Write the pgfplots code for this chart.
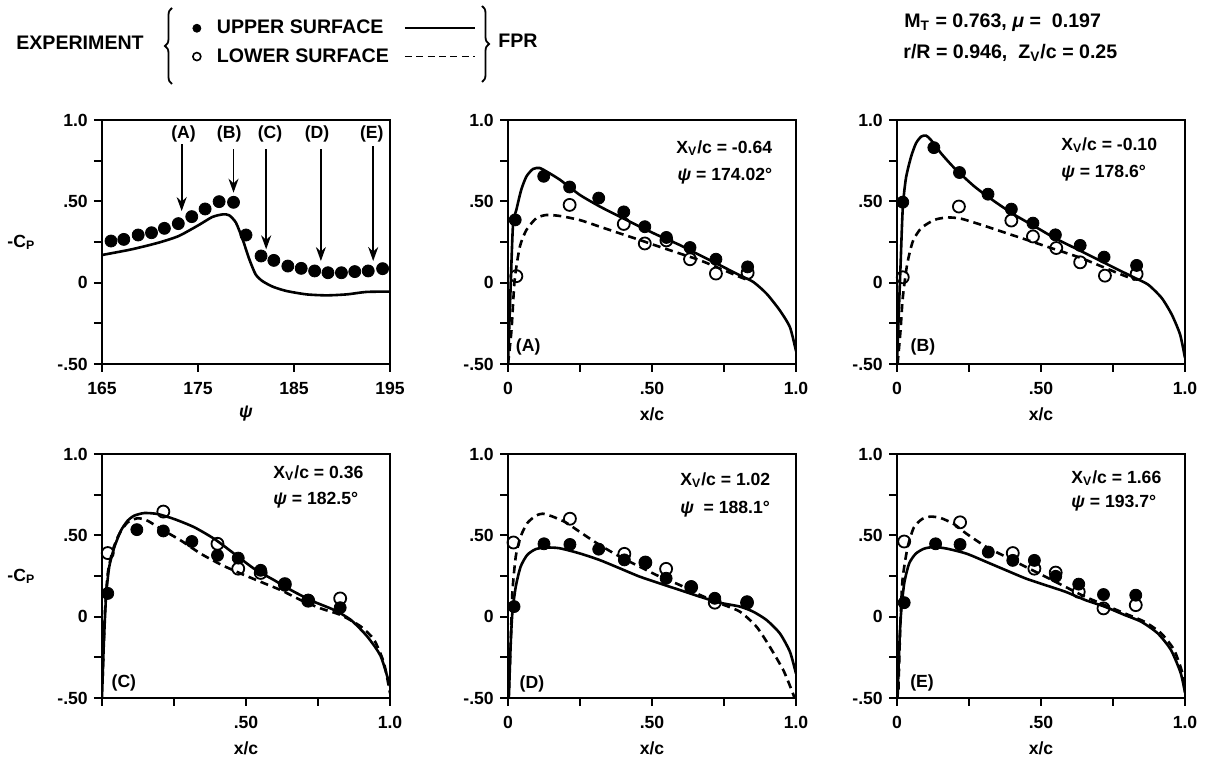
\documentclass[border=0pt]{standalone}
\usepackage{pgfplots}
\pgfplotsset{compat=1.18}
\usepackage{fontspec}
\setmainfont{Liberation Sans}
\usetikzlibrary{decorations.pathreplacing,arrows.meta}
\newcommand\fnt{\fontsize{8.8}{10.5}\selectfont\bfseries}
\newcommand\hfnt{\fontsize{9.8}{11.5}\selectfont\bfseries}
\tikzset{ann/.style={anchor=west, inner sep=0pt}}
\pgfplotsset{
  base/.style={
    scale only axis, width=144pt, height=122pt,
    ymin=-0.5, ymax=1,
    ytick={-0.5,-0.25,0,0.25,0.5,0.75,1}, yticklabels={-.50,,0,,.50,,1.0},
    tick align=outside, xtick pos=bottom, ytick pos=left,
    major tick length=4pt,
    axis line style={line width=0.9pt},
    every tick/.style={black, line width=0.9pt},
    tick label style={font=\fnt},
    xticklabel style={yshift=-2pt},
    label style={font=\fnt},
    xlabel style={at={(axis description cs:0.5,-0.205)}, anchor=center},
    ylabel style={rotate=-90, at={(axis description cs:-0.28,0.5)}, anchor=center},
    clip=true,
  },
  cpax/.style={base, xmin=0, xmax=1, xtick={0,0.25,0.5,0.75,1}, xticklabels={0,,.50,,1.0}, xlabel={x/c}},
  up/.style={only marks, mark=*, mark size=3pt, mark options={fill=black, draw=black}},
  lo/.style={only marks, mark=o, mark size=3pt, mark options={fill=white, draw=black, line width=0.9pt}},
  fs/.style={black, line width=1.3pt, no marks, smooth, tension=0.4},
  fd/.style={black, line width=1.3pt, no marks, smooth, tension=0.4, dash pattern=on 4pt off 2.5pt},
  legmark/.style={legend image code/.code={\draw[##1] plot coordinates {(3pt,0pt)}; \path[draw=none, fill=none] (0pt,0pt) (11pt,0pt);}},
  legline/.style={legend image code/.code={\draw[##1] (0pt,0pt) -- (35pt,0pt);}},
}
\begin{document}
\fnt
\begin{tikzpicture}
\useasboundingbox (0pt,0pt) rectangle (603pt,-379pt);

% ---------- psi panel ----------
\begin{axis}[base, at={(51pt,-182pt)}, anchor=south west,
  xmin=165, xmax=195, xtick={165,175,185,195}, xticklabels={165,175,185,195},
  xlabel={\textit{ψ}}, ylabel={-C\textsubscript{P}},
  legend columns=2, legend cell align=left,
  legend style={draw=none, fill=none, font=\hfnt, at={(axis description cs:0.817,1.318)}, anchor=center,
    row sep=2pt, /tikz/every even column/.append style={column sep=5.5pt}},
]
\addlegendimage{only marks, mark=*, mark size=2pt, black, legmark}
\addlegendentry{UPPER SURFACE}
\addlegendimage{black, line width=0.9pt, legline}
\addlegendentry{}
\addlegendimage{only marks, mark=o, mark size=2pt, black, line width=0.8pt, legmark}
\addlegendentry{LOWER SURFACE}
\addlegendimage{black, line width=0.9pt, dash pattern=on 3.5pt off 2.2pt, legline}
\addlegendentry{}
\addplot[fs, forget plot] coordinates {(165,0.17)(168.1,0.205)(170.9,0.246)(173.0,0.287)(175.1,0.355)(176.5,0.404)(177.6,0.42)(178.25,0.414)(178.95,0.369)(179.65,0.266)(180.35,0.143)(181.0,0.051)(181.7,0.01)(182.8,-0.025)(184.2,-0.051)(186.3,-0.072)(188.4,-0.078)(190.5,-0.072)(192.55,-0.057)(195,-0.055)};
\addplot[up, forget plot] coordinates {(165.94,0.256)(167.27,0.266)(168.77,0.293)(170.16,0.307)(171.5,0.334)(172.95,0.363)(174.35,0.406)(175.74,0.453)(177.2,0.498)(178.7,0.494)(180.0,0.293)(181.57,0.164)(182.9,0.137)(184.36,0.102)(185.75,0.088)(187.15,0.072)(188.54,0.061)(189.94,0.061)(191.33,0.068)(192.73,0.072)(194.23,0.086)};
\draw[-{Stealth[length=7pt,width=5pt]}, line width=0.9pt] (axis cs:173.3,0.85) -- (axis cs:173.3,0.44);
\draw[-{Stealth[length=7pt,width=5pt]}, line width=0.9pt] (axis cs:178.7,0.82) -- (axis cs:178.7,0.553);
\draw[-{Stealth[length=7pt,width=5pt]}, line width=0.9pt] (axis cs:182.1,0.82) -- (axis cs:182.1,0.205);
\draw[-{Stealth[length=7pt,width=5pt]}, line width=0.9pt] (axis cs:187.8,0.82) -- (axis cs:187.8,0.133);
\draw[-{Stealth[length=7pt,width=5pt]}, line width=0.9pt] (axis cs:193.25,0.84) -- (axis cs:193.25,0.133);
\node at (axis cs:173.5,0.912) {(A)};
\node at (axis cs:178.25,0.912) {(B)};
\node at (axis cs:182.5,0.912) {(C)};
\node at (axis cs:187.4,0.912) {(D)};
\node at (axis cs:193.1,0.912) {(E)};
\end{axis}

% ---------- A ----------
\begin{axis}[cpax, at={(254pt,-182pt)}, anchor=south west]
\addplot[fs] coordinates {(0,-0.5)(0.006,-0.19)(0.017,0.344)(0.029,0.447)(0.046,0.571)(0.064,0.653)(0.087,0.699)(0.11,0.705)(0.133,0.684)(0.18,0.633)(0.249,0.54)(0.319,0.468)(0.388,0.406)(0.458,0.344)(0.527,0.286)(0.597,0.231)(0.666,0.169)(0.736,0.107)(0.805,0.045)(0.852,0.004)(0.898,-0.068)(0.944,-0.171)(0.979,-0.274)(1.0,-0.42)};
\addplot[fd] coordinates {(0,-0.5)(0.012,-0.295)(0.023,0.014)(0.041,0.22)(0.064,0.324)(0.098,0.396)(0.133,0.416)(0.18,0.41)(0.249,0.385)(0.319,0.344)(0.388,0.303)(0.458,0.262)(0.527,0.22)(0.597,0.179)(0.666,0.138)(0.736,0.087)(0.805,0.035)(0.84,0.012)};
\addplot[lo] coordinates {(0.029,0.04)(0.214,0.478)(0.402,0.361)(0.475,0.241)(0.55,0.26)(0.632,0.144)(0.722,0.056)(0.832,0.06)};
\addplot[up] coordinates {(0.025,0.386)(0.124,0.654)(0.214,0.588)(0.315,0.52)(0.402,0.435)(0.475,0.344)(0.55,0.278)(0.632,0.216)(0.722,0.144)(0.832,0.097)};
\node[ann] at (axis description cs:0.583,0.886) {X\textsubscript{V}/c = -0.64};
\node[ann] at (axis description cs:0.588,0.771) {\textit{ψ} = 174.02°};
\node at (axis description cs:0.07,0.07) {(A)};
\end{axis}

% ---------- B ----------
\begin{axis}[cpax, at={(448.5pt,-182pt)}, anchor=south west]
\addplot[fs] coordinates {(0,-0.5)(0.006,-0.196)(0.012,0.09)(0.02,0.458)(0.031,0.642)(0.049,0.775)(0.066,0.857)(0.084,0.898)(0.101,0.904)(0.118,0.877)(0.153,0.795)(0.2,0.703)(0.269,0.591)(0.339,0.499)(0.408,0.417)(0.478,0.346)(0.548,0.274)(0.617,0.213)(0.687,0.151)(0.756,0.09)(0.826,0.029)(0.872,-0.012)(0.919,-0.094)(0.954,-0.196)(0.983,-0.319)(1.0,-0.463)};
\addplot[fd] coordinates {(0.002,-0.5)(0.012,-0.3)(0.02,-0.094)(0.035,0.11)(0.055,0.254)(0.084,0.335)(0.13,0.386)(0.176,0.401)(0.223,0.393)(0.292,0.356)(0.362,0.315)(0.432,0.274)(0.501,0.233)(0.571,0.192)(0.64,0.151)(0.71,0.1)(0.78,0.049)(0.826,0.018)};
\addplot[lo] coordinates {(0.02,0.033)(0.215,0.468)(0.397,0.382)(0.472,0.284)(0.553,0.213)(0.636,0.125)(0.722,0.043)(0.832,0.053)};
\addplot[up] coordinates {(0.02,0.495)(0.128,0.83)(0.217,0.677)(0.316,0.544)(0.397,0.452)(0.472,0.366)(0.55,0.294)(0.636,0.229)(0.719,0.157)(0.832,0.106)};
\node[ann] at (axis description cs:0.569,0.898) {X\textsubscript{V}/c = -0.10};
\node[ann] at (axis description cs:0.569,0.783) {\textit{ψ} = 178.6°};
\node at (axis description cs:0.09,0.07) {(B)};
\end{axis}

% ---------- C ----------
\begin{axis}[cpax, at={(51pt,-349pt)}, anchor=south west, xticklabels={,,.50,,1.0}, ylabel={-C\textsubscript{P}}]
\addplot[fs] coordinates {(0,-0.5)(0.006,-0.183)(0.014,0.122)(0.025,0.305)(0.043,0.428)(0.066,0.53)(0.089,0.59)(0.112,0.621)(0.147,0.637)(0.193,0.631)(0.251,0.6)(0.32,0.55)(0.39,0.478)(0.459,0.387)(0.528,0.295)(0.598,0.224)(0.667,0.153)(0.736,0.092)(0.806,0.041)(0.864,-0.02)(0.921,-0.122)(0.968,-0.244)(1.0,-0.427)};
\addplot[fd] coordinates {(0.002,-0.387)(0.01,0.02)(0.02,0.265)(0.037,0.407)(0.06,0.509)(0.089,0.58)(0.124,0.605)(0.158,0.59)(0.205,0.539)(0.274,0.468)(0.343,0.387)(0.413,0.32)(0.482,0.265)(0.551,0.214)(0.621,0.163)(0.69,0.102)(0.759,0.051)(0.829,0.01)(0.899,-0.061)(0.945,-0.143)(0.979,-0.285)(1.0,-0.47)};
\addplot[lo] coordinates {(0.02,0.391)(0.213,0.646)(0.401,0.448)(0.473,0.295)(0.551,0.269)(0.635,0.2)(0.716,0.098)(0.827,0.112)};
\addplot[up] coordinates {(0.02,0.143)(0.121,0.535)(0.213,0.527)(0.312,0.462)(0.401,0.377)(0.473,0.36)(0.551,0.285)(0.635,0.193)(0.716,0.102)(0.827,0.055)};
\node[ann] at (axis description cs:0.594,0.922) {X\textsubscript{V}/c = 0.36};
\node[ann] at (axis description cs:0.594,0.812) {\textit{ψ} = 182.5°};
\node at (axis description cs:0.076,0.06) {(C)};
\end{axis}

% ---------- D ----------
\begin{axis}[cpax, at={(254pt,-349pt)}, anchor=south west]
\addplot[fs] coordinates {(0.003,-0.5)(0.009,-0.185)(0.015,0.02)(0.027,0.185)(0.044,0.308)(0.067,0.38)(0.096,0.415)(0.131,0.425)(0.178,0.421)(0.247,0.39)(0.317,0.349)(0.387,0.298)(0.456,0.247)(0.526,0.205)(0.596,0.164)(0.666,0.123)(0.735,0.086)(0.805,0.062)(0.851,0.031)(0.898,-0.021)(0.944,-0.103)(0.979,-0.216)(1.0,-0.35)};
\addplot[fd] coordinates {(0.003,-0.452)(0.009,-0.185)(0.015,0.144)(0.027,0.37)(0.044,0.493)(0.067,0.575)(0.096,0.62)(0.12,0.633)(0.154,0.616)(0.201,0.579)(0.247,0.524)(0.317,0.442)(0.387,0.37)(0.456,0.308)(0.526,0.247)(0.596,0.195)(0.666,0.134)(0.735,0.082)(0.805,0.031)(0.863,-0.062)(0.909,-0.185)(0.956,-0.329)(0.985,-0.452)(0.997,-0.51)};
\addplot[lo] coordinates {(0.019,0.456)(0.215,0.602)(0.404,0.386)(0.477,0.333)(0.549,0.294)(0.636,0.181)(0.718,0.086)(0.83,0.086)};
\addplot[up] coordinates {(0.021,0.062)(0.125,0.448)(0.215,0.444)(0.315,0.415)(0.404,0.349)(0.477,0.329)(0.549,0.236)(0.636,0.185)(0.718,0.113)(0.83,0.092)};
\node[ann] at (axis description cs:0.597,0.894) {X\textsubscript{V}/c = 1.02};
\node[ann] at (axis description cs:0.597,0.775) {\textit{ψ} \ = 188.1°};
\node at (axis description cs:0.083,0.057) {(D)};
\end{axis}

% ---------- E ----------
\begin{axis}[cpax, at={(448.5pt,-349pt)}, anchor=south west]
\addplot[fs] coordinates {(0.002,-0.5)(0.008,-0.183)(0.014,0.02)(0.025,0.204)(0.042,0.326)(0.065,0.387)(0.094,0.418)(0.128,0.428)(0.174,0.418)(0.242,0.387)(0.311,0.336)(0.379,0.285)(0.448,0.234)(0.517,0.193)(0.585,0.153)(0.654,0.102)(0.722,0.061)(0.791,0.01)(0.848,-0.031)(0.905,-0.102)(0.951,-0.204)(0.985,-0.346)(1.0,-0.468)};
\addplot[fd] coordinates {(0.005,-0.448)(0.011,-0.081)(0.019,0.224)(0.037,0.428)(0.059,0.55)(0.088,0.601)(0.117,0.615)(0.151,0.607)(0.197,0.57)(0.242,0.509)(0.311,0.428)(0.379,0.367)(0.448,0.305)(0.517,0.244)(0.585,0.183)(0.654,0.122)(0.722,0.071)(0.791,0.02)(0.859,-0.031)(0.917,-0.102)(0.962,-0.204)(0.991,-0.346)(1.0,-0.448)};
\addplot[lo] coordinates {(0.025,0.462)(0.219,0.58)(0.402,0.391)(0.477,0.295)(0.551,0.271)(0.631,0.153)(0.717,0.051)(0.829,0.071)};
\addplot[up] coordinates {(0.025,0.086)(0.134,0.448)(0.219,0.444)(0.317,0.397)(0.402,0.346)(0.477,0.346)(0.551,0.248)(0.631,0.2)(0.717,0.136)(0.829,0.132)};
\node[ann] at (axis description cs:0.604,0.902) {X\textsubscript{V}/c = 1.66};
\node[ann] at (axis description cs:0.604,0.799) {\textit{ψ} = 193.7°};
\node at (axis description cs:0.087,0.06) {(E)};
\end{axis}

% ---------- header ----------
\node[font=\hfnt] at (40pt,-21.5pt) {EXPERIMENT};
\draw[decorate, decoration={brace, amplitude=3.5pt}, line width=0.9pt] (86pt,-42pt) -- (86pt,-4pt);
\draw[decorate, decoration={brace, amplitude=3.5pt}, line width=0.9pt] (241pt,-3pt) -- (241pt,-41pt);
\node[font=\hfnt] at (259pt,-20.5pt) {FPR};
\node[font=\hfnt, ann] at (452pt,-11.5pt) {M\textsubscript{T} = 0.763, \textit{μ} =\ \ 0.197};
\node[font=\hfnt, ann] at (451.5pt,-26.5pt) {r/R = 0.946,\ \ Z\textsubscript{V}/c = 0.25};
\end{tikzpicture}
\end{document}
